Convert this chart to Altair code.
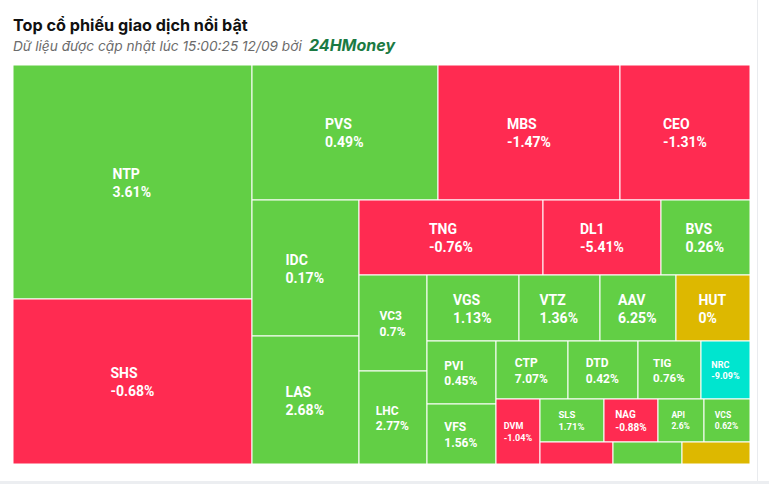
import math
import altair as alt
import pandas as pd

# ---------------- data ----------------
symbols = ["NTP", "SHS", "PVS", "MBS", "CEO", "IDC", "LAS", "TNG", "DL1", "BVS",
           "VC3", "LHC", "VGS", "VTZ", "AAV", "HUT", "PVI", "VFS", "CTP", "DTD",
           "TIG", "NRC", "DVM", "SLS", "NAG", "API", "VCS", "", "", ""]
# relative trading size (tile weight)
volumes = [55926, 39435, 25110, 24570, 17550, 14552, 13696, 13800, 8850, 6675,
           6528, 6324, 6072, 5346, 5016, 4884, 4347, 4140, 4176, 4060,
           3654, 2842, 2860, 2752, 2322, 1978, 1978, 1606, 1518, 1496]
# % change (last three tiles are unlabeled; only their sign is visible)
changes = [3.61, -0.68, 0.49, -1.47, -1.31, 0.17, 2.68, -0.76, -5.41, 0.26,
           0.7, 2.77, 1.13, 1.36, 6.25, 0, 0.45, 1.56, 7.07, 0.42,
           0.76, -9.09, -1.04, 1.71, -0.88, 2.6, 0.62, -1, 1, 0]
floor_tickers = ["NRC"]

TITLE = "Top cổ phiếu giao dịch nổi bật"
SUBTITLE = "Dữ liệu được cập nhật lúc 15:00:25 12/09 bởi"
BRAND = "24HMoney"

# ---------------- styling ----------------
W, H = 737, 399
COLORS = {"up": "#62CF45", "down": "#FF2B51", "ref": "#DDB800", "floor": "#00E5CF"}
LABEL_SIZE = {"CTP": 12, "DTD": 12, "TIG": 11.5,
              "VC3": 12, "LHC": 12, "PVI": 12, "VFS": 12, "SLS": 9.5, "NAG": 10,
              "API": 8.5, "VCS": 8.5, "DVM": 9, "NRC": 9}
DEFAULT_SIZE = 14

# Roboto Bold advance widths (em)
CW = {"A": .657, "B": .624, "C": .639, "D": .635, "E": .549, "F": .536, "G": .668,
      "H": .697, "I": .285, "K": .63, "L": .529, "M": .872, "N": .696, "O": .673,
      "P": .632, "R": .621, "S": .602, "T": .606, "U": .644, "V": .641, "W": .87,
      "Y": .62, "Z": .596, ".": .266, "%": .733, "-": .276}


def text_w(s, size):
    return sum(CW.get(c, .5615) for c in s) * size * 1.066


# ---------------- squarified treemap (alternating-direction, low-AR) ----------------
def squarified(values, x, y, w, h):
    total = sum(values)
    area = w * h
    st = {"width": w, "height": h, "dir": 0, "px": x, "py": y,
          "total": 0.0, "nW": 0.0, "lW": 0.0, "nH": 0.0, "lH": 0.0,
          "el": [], "nR": 0.0, "lR": 0.0}
    out = []

    def ar(a, b):
        return max(a / b, b / a)

    def add(el):
        has_prev = len(st["el"]) > 0
        lp = st["el"][-1] if has_prev else None
        st["total"] += el
        if st["dir"] == 0:
            st["lW"] = st["nW"]
            st["nW"] = st["total"] / st["height"]
            if has_prev:
                st["lR"] = ar(st["lW"], lp / st["lW"])
                st["nR"] = ar(st["nW"], lp / st["nW"])
            else:
                st["lR"] = st["nR"] = 0.0
        else:
            st["lH"] = st["nH"]
            st["nH"] = st["total"] / st["width"]
            if has_prev:
                st["lR"] = ar(lp / st["lH"], st["lH"])
                st["nR"] = ar(lp / st["nH"], st["nH"])
            else:
                st["lR"] = st["nR"] = 0.0
        st["el"].append(el)

    def calc(last):
        gW, gH = (st["nW"], st["nH"]) if last else (st["lW"], st["lH"])
        keep = None if last else st["el"][-1]
        end = len(st["el"]) - 1
        for i, p in enumerate(st["el"]):
            if last or i < end:
                if st["dir"] == 0:
                    pw, ph = gW, p / gW
                else:
                    ph, pw = gH, p / gH
                out.append((st["px"], st["py"], pw, ph))
                if st["dir"] == 0:
                    st["py"] += ph
                else:
                    st["px"] += pw
        st["el"] = []
        st["total"] = 0.0
        st["nW"] = st["lW"] = 0.0
        if st["dir"] == 0:
            st["width"] -= gW
        else:
            st["height"] -= gH
        st["py"] = y + (h - st["height"])
        st["px"] = x + (w - st["width"])
        st["dir"] = 1 - st["dir"]
        if not last:
            add(keep)

    end = len(values) - 1
    for i, v in enumerate(values):
        add(area * v / total)
        if st["nR"] > st["lR"]:
            calc(False)
        if i == end:
            calc(True)
    return out


rects = squarified(volumes, 0, 0, W, H)

rows = []
for sym, vol, chg, (rx, ry, rw, rh) in zip(symbols, volumes, changes, rects):
    if sym in floor_tickers:
        status = "floor"
    elif chg > 0:
        status = "up"
    elif chg < 0:
        status = "down"
    else:
        status = "ref"
    pct = f"{chg:g}%"
    size = LABEL_SIZE.get(sym, DEFAULT_SIZE)
    bw = max(text_w(sym, size), text_w(pct, size))
    cx, cy = rx + rw / 2, ry + rh / 2
    b1 = cy - 0.25 * size
    rows.append({"sym": sym, "pct": pct, "status": status, "vol": vol,
                 "x0": rx, "x1": rx + rw, "y0": ry, "y1": ry + rh,
                 "lx": cx - bw / 2, "b1": b1, "b2": b1 + 1.3 * size,
                 "size": size, "show": sym != ""})
df = pd.DataFrame(rows)

xs = alt.Scale(domain=[0, W], nice=False, zero=False)
ys = alt.Scale(domain=[0, H], nice=False, zero=False, reverse=True)

base = alt.Chart(df)

tiles = base.mark_rect(stroke="white", strokeWidth=1).encode(
    x=alt.X("x0:Q", scale=xs, axis=None),
    x2="x1:Q",
    y=alt.Y("y0:Q", scale=ys, axis=None),
    y2="y1:Q",
    color=alt.Color("status:N", legend=None,
                    scale=alt.Scale(domain=list(COLORS.keys()), range=list(COLORS.values()))),
)

labels = base.transform_filter("datum.show")
line1 = labels.mark_text(align="left", baseline="alphabetic", font="Roboto",
                         fontWeight="bold", color="white").encode(
    x=alt.X("lx:Q", scale=xs), y=alt.Y("b1:Q", scale=ys),
    text="sym:N", size=alt.Size("size:Q", scale=None, legend=None))
line2 = labels.mark_text(align="left", baseline="alphabetic", font="Roboto",
                         fontWeight="bold", color="white").encode(
    x=alt.X("lx:Q", scale=xs), y=alt.Y("b2:Q", scale=ys),
    text="pct:N", size=alt.Size("size:Q", scale=None, legend=None))

tdf = pd.DataFrame({"t": [TITLE], "s": [SUBTITLE], "b": [BRAND]})
title = alt.Chart(tdf).mark_text(align="left", baseline="alphabetic", font="Inter",
                                 fontSize=16.2, fontWeight="bold", color="#111111").encode(
    text="t:N", x=alt.value(0), y=alt.value(-34))
subtitle = alt.Chart(tdf).mark_text(align="left", baseline="alphabetic", font="Inter",
                                    fontSize=13.7, fontStyle="italic", color="#6b6b6b").encode(
    text="s:N", x=alt.value(0), y=alt.value(-14))
brand = alt.Chart(tdf).mark_text(align="left", baseline="alphabetic", font="Inter",
                                 fontSize=16, fontStyle="italic", fontWeight="bold",
                                 color="#1B7A43").encode(
    text="b:N", x=alt.value(296), y=alt.value(-14))

# card edge decorations
edge = alt.Chart(tdf).mark_rect(color="#e9ebee").encode(
    x=alt.value(744), x2=alt.value(745), y=alt.value(-65), y2=alt.value(416))
band = alt.Chart(tdf).mark_rect(color="#eceef1").encode(
    x=alt.value(-13), x2=alt.value(756), y=alt.value(416), y2=alt.value(419))

chart = alt.layer(edge, band, tiles, line1, line2, title, subtitle, brand).properties(
    width=W, height=H,
    autosize=alt.AutoSizeParams(type="none"),
    padding={"left": 13, "top": 65, "right": 19, "bottom": 20},
    background="white",
).configure_view(stroke=None)

chart.save("out.html", embed_options={"renderer": "svg", "actions": False})
